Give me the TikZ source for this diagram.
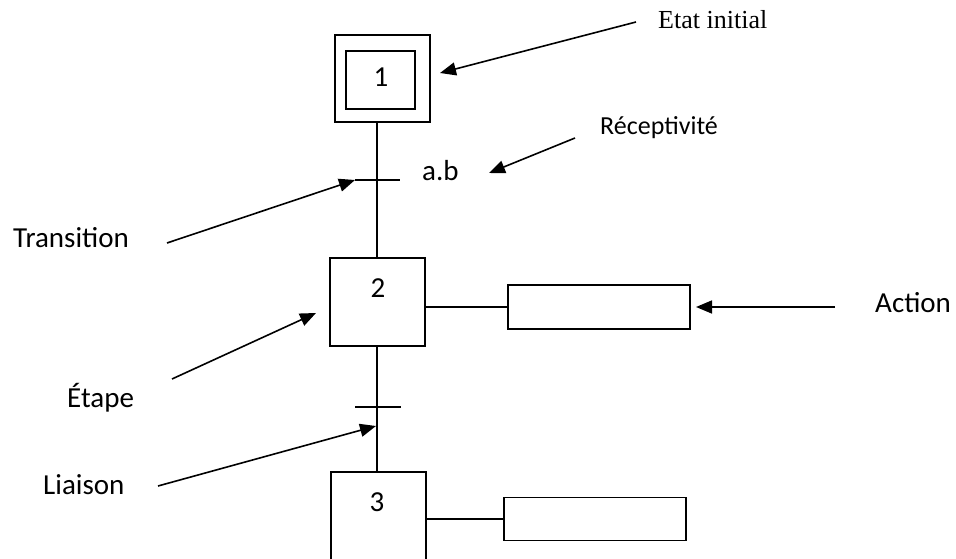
\documentclass[tikz,border=0pt]{standalone}
\usepackage{fontspec}
\setmainfont{Carlito}
\newfontfamily\serifface{Liberation Serif}
\usetikzlibrary{arrows.meta}
\begin{document}
\begin{tikzpicture}[x=1pt,y=-1pt,
  box/.style={draw,line width=1.2pt,minimum width=#1,inner sep=0pt},
  link/.style={line width=1.2pt},
  pointer/.style={line width=1.6pt,-{Triangle[length=16pt,width=13pt]}},
  lbl/.style={font=\fontsize{29}{34}\selectfont,inner sep=0pt,anchor=base west},
  num/.style={font=\fontsize{29}{34}\selectfont,inner sep=0pt,anchor=base}]
\useasboundingbox (0,0) rectangle (956,559);
\clip (0,0) rectangle (956,559);

% step 1 (initial step, double box)
\node[box=95pt,minimum height=87pt] (s1o) at (382.5,78.5) {};
\node[box=69pt,minimum height=58pt] (s1i) at (380.5,80) {};
\node[num] (n1) at (381,87) {1};

% step 2
\node[box=95pt,minimum height=88pt] (s2) at (377.5,302) {};
\node[num] (n2) at (378,297) {2};

% step 3
\node[box=95pt,minimum height=96pt] (s3) at (378.5,520) {};
\node[num] (n3) at (377,511) {3};

% action boxes
\node[box=182pt,minimum height=44pt] (a2) at (599,307) {};
\node[box=182pt,minimum height=43pt] (a3) at (595,519) {};

% vertical links and transitions
\coordinate (t1) at (377,180);
\coordinate (t2) at (377,407);
\draw[link] (t1 |- s1o.south) -- (t1 |- s2.north);
\draw[link] (t2 |- s2.south) -- (t2 |- s3.north);
\draw[link] ([xshift=-22pt]t1) -- ([xshift=23pt]t1);
\draw[link] ([xshift=-22pt]t2) -- ([xshift=24pt]t2);
\draw[link] (s2.east |- a2.west) -- (a2.west);
\draw[link] (s3.east |- a3.west) -- (a3.west);

% receptivity
\node[lbl] (rc) at (422,180) {a.b};

% annotations
\node[lbl,font=\serifface\fontsize{26}{30}\selectfont] (ei) at (658,29) {Etat initial};
\node[lbl,font=\fontsize{26}{30}\selectfont] (rp) at (600,135) {Réceptivité};
\node[lbl] (tr) at (13,247) {Transition};
\node[lbl] (et) at (67,407) {Étape};
\node[lbl] (li) at (43,494) {Liaison};
\node[lbl] (ac) at (875,312) {Action};

\coordinate (ei0) at (636,22);
\coordinate (ei1) at (440,73);
\coordinate (rp0) at (575,138);
\coordinate (rp1) at (489,173);
\coordinate (tr0) at (167,243);
\coordinate (tr1) at (355,180);
\coordinate (et0) at (172,379);
\coordinate (et1) at (316,313);
\coordinate (li0) at (158,486);
\coordinate (li1) at (376,426);
\coordinate (ac0) at (835,307);
\coordinate (ac1) at (696,307);

\draw[pointer] (ei0) -- (ei1);
\draw[pointer] (rp0) -- (rp1);
\draw[pointer] (tr0) -- (tr1);
\draw[pointer] (et0) -- (et1);
\draw[pointer] (li0) -- (li1);
\draw[pointer] (ac0) -- (ac1);
\end{tikzpicture}
\end{document}
